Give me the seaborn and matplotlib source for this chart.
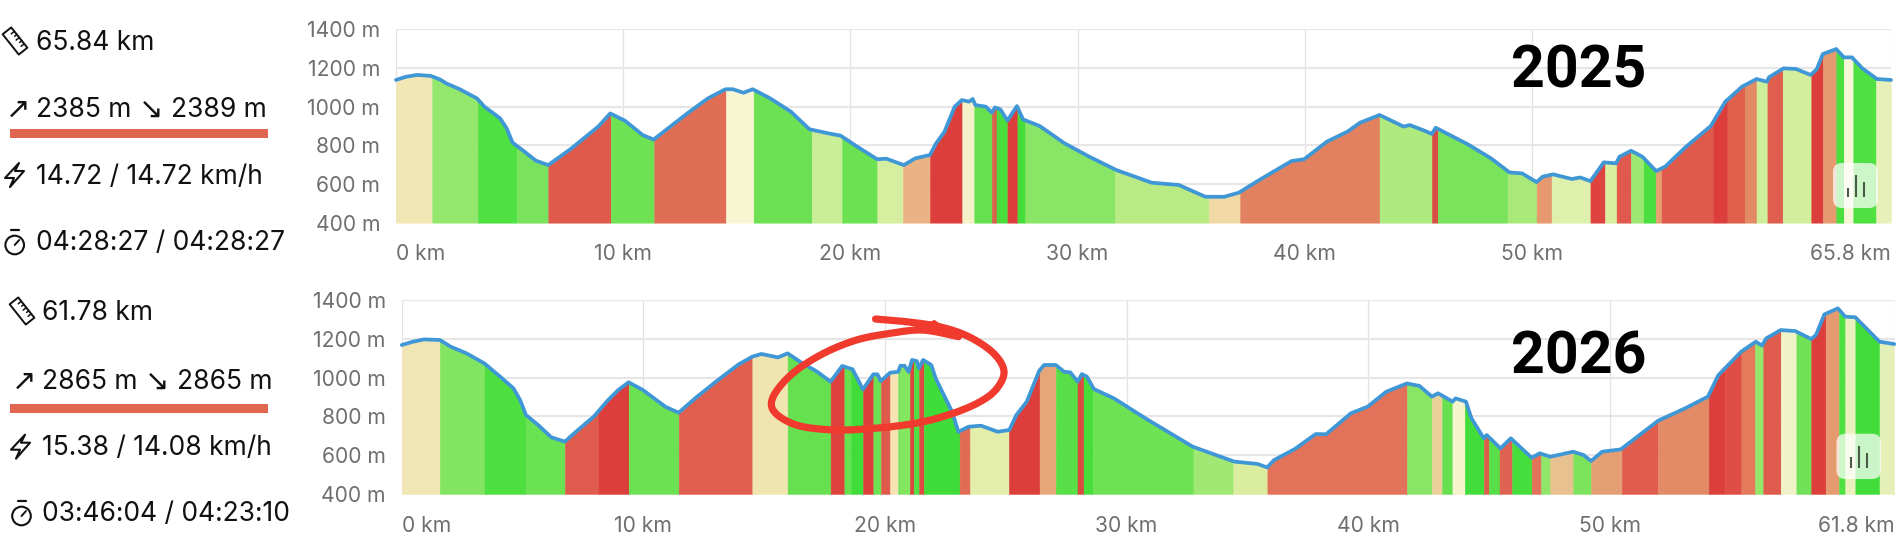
import numpy as np
import pandas as pd
import matplotlib
matplotlib.use("Agg")
import matplotlib.pyplot as plt
from matplotlib.patches import Polygon, Circle, FancyBboxPatch
import seaborn as sns

# ---------- data ----------
km_2025 = [0,0.45,0.94,1.53,1.93,2.22,2.81,3.56,3.89,4.58,4.87,5.13,5.66,6.15,6.70,7.72,8.9,9.43,10.08,10.86,11.34,
           12.82,13.73,14.5,14.83,15.29,15.7,16.47,17.38,18.2,19.03,19.57,20.3,21.18,21.58,22.35,22.86,23.5,23.77,24.14,24.59,24.9,25.23,25.38,25.5,25.96,26.23,26.36,26.6,26.91,27.33,27.6,28.33,29.43,30.52,31.71,33.26,34.45,35.63,36.45,37.09,38.0,
           39.42,39.97,40.97,41.88,42.43,43.29,44.35,44.62,45.26,45.59,45.76,47.18,48.19,49.01,49.56,50.2,50.47,50.93,51.75,52.12,52.57,53.16,53.7,53.85,54.36,54.86,55.46,55.86,56.78,57.87,58.51,59.24,59.88,60.34,60.43,61.07,61.62,62.26,62.53,62.8,63.39,63.72,64.08,64.54,65.18,65.8]
ele_2025 = [1138,1155,1164,1159,1141,1120,1090,1043,1000,940,888,814,767,721,698,784,897,965,927,853,830,
            965,1043,1090,1090,1072,1090,1043,974,883,862,850,793,728,731,698,733,750,810,870,1000,1034,1026,1040,1008,1000,969,996,986,928,1003,934,900,810,741,672,607,595,534,534,555,621,
            719,728,819,871,917,957,897,905,876,859,891,805,733,660,655,610,638,650,626,634,615,712,707,741,772,741,667,690,793,900,1026,1103,1143,1129,1152,1198,1195,1164,1193,1272,1298,1255,1255,1198,1143,1138]
seg_end_2025 = [1.59,3.6,5.32,6.7,9.45,11.36,14.52,15.74,18.3,19.63,21.18,22.31,23.5,24.92,25.45,26.22,26.43,26.91,27.35,27.69,31.65,35.78,37.15,
                43.29,45.59,45.85,48.92,50.2,50.86,52.57,53.21,53.72,54.35,54.91,55.44,55.7,57.96,58.6,59.37,59.88,60.36,61.03,62.29,62.8,63.39,63.72,64.14,65.14,65.8]
seg_col_2025 = ["#f1e6b4","#93e76d","#4fe041","#7ae35d","#e05a4c","#6fe254","#e06e55","#f6f6d3","#6de153","#c9ee97","#6ce152","#d5eea0","#e9b385","#dc3f3b","#f5f2c9","#66e04e","#d6634c","#4ade3d","#dc3f3b","#44dd3a","#88e565","#b9ea83","#f0d9a5",
                "#e2815f","#aeea7d","#d64f40","#79e35c","#a8e97a","#e6986f","#dff0ac","#de433f","#d9ee9f","#e0594c","#9de872","#4ade3e","#e6a070","#e05a4c","#dc3f3b","#e0604e","#e28a63","#cdef99","#e05e4e","#d3ee9c","#dc3f3b","#e69a70","#4ade3f","#f7f7d8","#4fe041","#e6f0b8"]

km_2026 = [0,.46,.92,1.57,2.03,2.68,3.42,4.07,4.62,4.9,5.14,5.64,6.19,6.75,7.21,7.95,8.5,8.96,9.39,9.98,10.91,11.46,
           12.14,13.0,13.94,14.51,14.89,15.57,15.97,16.52,17.2,17.75,18.23,18.66,19.09,19.52,19.69,19.83,20.21,20.55,20.64,20.81,20.98,21.12,21.32,21.41,21.58,21.92,22.1,22.78,23.04,23.47,23.98,24.67,25.15,25.44,25.87,26.39,26.59,27.07,27.42,27.67,27.98,28.15,28.36,28.65,29.48,30.85,32.74,34.46,35.42,35.82,
           36.11,36.97,37.83,38.26,39.29,39.98,40.75,41.61,42.13,42.64,42.9,43.5,43.62,44.05,44.28,44.79,44.91,45.48,45.91,46.77,47.11,47.54,48.49,48.92,49.23,49.69,50.46,52.01,53.13,54.07,54.5,55.45,56.05,56.31,56.48,57.08,57.68,58.34,58.54,58.89,59.45,59.75,60.17,61.17,61.78]
ele_2026 = [1168,1185,1197,1194,1159,1125,1073,1005,945,884,807,756,692,670,721,799,879,936,976,936,850,819,
            893,979,1068,1108,1122,1104,1125,1079,1030,979,1060,1043,939,1017,1017,982,1025,1030,1061,1061,1030,1091,1085,1048,1091,1065,996,824,721,747,752,721,730,807,876,1036,1065,1065,1030,1027,979,1018,1005,941,893,785,644,567,555,537,
            575,632,709,708,816,850,927,970,957,902,919,876,893,876,790,687,704,635,687,587,610,592,618,601,570,618,630,778,842,902,1013,1134,1185,1165,1202,1245,1240,1199,1219,1326,1357,1314,1311,1185,1173]
seg_end_2026 = [1.57,3.42,5.14,6.75,8.13,9.39,11.46,14.51,15.97,17.75,18.32,18.59,19.09,19.52,19.83,20.21,20.55,20.62,21.03,21.19,21.41,21.61,23.09,23.52,25.13,26.4,27.07,27.97,28.22,28.62,32.77,34.42,35.83,
                41.61,42.64,43.06,43.49,44.0,44.79,45.0,45.44,45.96,46.77,47.16,47.54,48.49,49.23,50.5,52.0,54.1,54.76,55.45,56.02,56.36,57.08,57.73,58.34,58.94,59.49,59.75,60.17,61.17,61.78]
seg_col_2026 = ["#f0e5b4","#81e561","#4ee041","#6ae251","#df5b4d","#dc3f3b","#6ce152","#e05e4e","#f0e5b0","#66e04e","#de423d","#66e04e","#3fdc3a","#dc3f3b","#6ce152","#e05a4c","#f7e4b4","#6de153","#84e55f","#d9473e","#4fe041","#de4a40","#3fdc3a","#e06c54","#e2eeaa","#dc3f3b","#e6a677","#58df47","#d94b3f","#47de3c","#6fe254","#a0e873","#dbee9f",
                "#e2725a","#88e565","#ebd09a","#66e04e","#f5f4cd","#43dd3b","#da5e49","#58df47","#df6352","#46de3c","#e2725a","#8fe668","#e9c191","#7ce45c","#e59f75","#e05c4d","#e38a66","#dc3f3b","#df4d44","#e4795c","#93e76a","#df5b4d","#eff3c7","#71e257","#dc3f3b","#e69a70","#4fe041","#eaf1bd","#43dd3b","#e5f0b8"]

# hand-drawn red loop on the 2026 profile (km, m)
loop_km = [19.61,20.89,22.27,23.47,24.5,24.93,24.58,23.81,22.61,21.24,19.52,17.98,16.6,15.74,15.31,15.49,16.26,17.46,18.83,20.21,21.58,23.04]
loop_m  = [1302,1288,1262,1211,1125,1030,936,867,807,764,738,730,747,790,850,927,1030,1125,1194,1228,1245,1211]

y_ticks = [400,600,800,1000,1200,1400]
x_ticks_2025 = [0,10,20,30,40,50,65.8]
x_ticks_2026 = [0,10,20,30,40,50,61.8]
stats_2025 = ["65.84 km","2385 m","2389 m","14.72 / 14.72 km/h","04:28:27 / 04:28:27"]
stats_2026 = ["61.78 km","2865 m","2865 m","15.38 / 14.08 km/h","03:46:04 / 04:23:10"]

# ---------- style ----------
sns.set_theme(style="white")
FONT = ["Inter", "DejaVu Sans"]
plt.rcParams["font.family"] = FONT
W, H = 1901, 550
GRID = "#e6e6e6"
LINE = "#3f97d6"
TICK = "#6f6f6f"
INK = "#111111"
fig = plt.figure(figsize=(W/100, H/100), dpi=100, facecolor="white")

def make_ax(x0, x1, ytop, ybot):
    return fig.add_axes([x0/W, 1-ybot/H, (x1-x0)/W, (ybot-ytop)/H])

def profile(ax, km, ele, ends, cols, xt, xmax):
    km = np.array(km, float); ele = np.array(ele, float)
    ax.set_xlim(0, xmax); ax.set_ylim(400, 1400)
    ax.set_axisbelow(True)
    ax.set_yticks(y_ticks); ax.set_yticklabels([f"{v} m" for v in y_ticks])
    ax.set_xticks(xt)
    labs = [f"{v:g} km" for v in xt]
    ax.set_xticklabels(labs)
    ax.grid(True, axis="y", color=GRID, lw=1.5)
    ax.grid(True, axis="x", color="#e2e2e2", lw=0.9)
    for s in ax.spines.values():
        s.set_visible(False)
    ax.tick_params(axis="y", length=8.5, width=1.1, color=GRID, labelsize=15.2, labelcolor=TICK, pad=3)
    ax.tick_params(axis="x", length=8.5, width=0.9, color="#e2e2e2", labelsize=15.2, labelcolor=TICK, pad=7)
    tl = ax.get_xticklabels()
    tl[0].set_ha("left"); tl[-1].set_ha("right")
    lo = 0.0
    for hi, c in zip(ends, cols):
        inner = km[(km > lo) & (km < hi)]
        xs = np.concatenate([[lo], inner, [hi]])
        ax.fill_between(xs, 400, np.interp(xs, km, ele), color=c, lw=0.3, zorder=2)
        lo = hi
    sns.lineplot(x=km, y=ele, ax=ax, color=LINE, lw=2.7, estimator=None, errorbar=None, zorder=3, clip_on=False)
    ax.set_xlabel(""); ax.set_ylabel("")

ax1 = make_ax(396, 1891, 29.3, 222.7)
ax2 = make_ax(401.8, 1894.7, 300, 494)
profile(ax1, km_2025, ele_2025, seg_end_2025, seg_col_2025, x_ticks_2025, 65.8)
profile(ax2, km_2026, ele_2026, seg_end_2026, seg_col_2026, x_ticks_2026, 61.8)

# overlay in pixel space for the side panel and badges
ov = fig.add_axes([0, 0, 1, 1], facecolor="none")
ov.set_xlim(0, W); ov.set_ylim(H, 0); ov.axis("off"); ov.set_zorder(5)

def catmull(x, y, n=14):
    p = np.column_stack([x, y]).astype(float)
    p = np.vstack([p[0], p, p[-1]])
    out = []
    for i in range(1, len(p)-2):
        t = np.linspace(0, 1, n, endpoint=False)[:, None]
        a, b, c, d = p[i-1], p[i], p[i+1], p[i+2]
        out.append(0.5*((2*b)+(-a+c)*t+(2*a-5*b+4*c-d)*t**2+(-a+3*b-3*c+d)*t**3))
    out.append(p[-2][None, :])
    return np.vstack(out)

# red loop, drawn through the axes scale of the 2026 chart
sm = catmull(loop_km, loop_m)
pix = ov.transData.inverted().transform(ax2.transData.transform(sm))
ov.plot(pix[:, 0], pix[:, 1], color="#f03a2e", lw=5.2, solid_capstyle="round", solid_joinstyle="round")
tip = ov.transData.inverted().transform(ax2.transData.transform((loop_km[-1], loop_m[-1])))
ov.add_patch(Polygon([tip+(2, 2), tip+(-24, -16), tip+(-42, -8)], closed=True, color="#f03a2e", lw=1))

def ruler(cx, cy):
    L, w = 13, 5.5
    d = np.array([0.62, 0.78]); n = np.array([0.78, -0.62])
    c = np.array([cx, cy])
    ov.add_patch(Polygon([c-d*L-n*w, c-d*L+n*w, c+d*L+n*w, c+d*L-n*w], closed=True, fc="none", ec=INK, lw=1.4, joinstyle="round"))
    for k in np.linspace(-8, 8, 5):
        a = c+d*k+n*w
        b = a-n*(4 if int(k) % 8 == 0 else 2.8)
        ov.plot([a[0], b[0]], [a[1], b[1]], color=INK, lw=1.1)

def bolt(dx, cy):
    pts = np.array([[20,-12],[6,3],[15,3],[11,12],[25,-4],[16,-4]], float)
    ov.add_patch(Polygon(pts+[dx, cy], closed=True, fc="none", ec=INK, lw=1.5, joinstyle="round"))

def watch(cx, cy):
    ov.add_patch(Circle((cx, cy), 9.3, fc="none", ec=INK, lw=1.5))
    ov.plot([cx-4, cx+4], [cy-15, cy-15], color=INK, lw=1.6)
    ov.plot([cx, cx+4.5], [cy, cy-5], color=INK, lw=1.4)

def side(st, x, ys, bar_y, ic):
    fs = 19
    ov.text(x, ys[0], st[0], fontsize=fs, color=INK, va="center", ha="left")
    ov.text(x-30, ys[1], "↗", fontsize=fs+2, color=INK, va="center", ha="left", family=["DejaVu Sans"])
    ov.text(x, ys[1], st[1], fontsize=fs, color=INK, va="center", ha="left")
    ov.text(ic[0], ys[1], "↘", fontsize=fs+2, color=INK, va="center", ha="left", family=["DejaVu Sans"])
    ov.text(ic[1], ys[1], st[2], fontsize=fs, color=INK, va="center", ha="left")
    ov.text(x, ys[2], st[3], fontsize=fs, color=INK, va="center", ha="left")
    ov.text(x, ys[3], st[4], fontsize=fs, color=INK, va="center", ha="left")
    ov.fill_between([10, 268], bar_y, bar_y+9, color="#e0664f", lw=0)

side(stats_2025, 35.5, [43.5, 110, 177, 243], 129, (139, 171))
side(stats_2026, 42, [313.5, 382, 448, 514], 404, (145, 177))
ruler(15, 41); ruler(22, 311)
bolt(-1, 175); bolt(5, 446.7)
watch(14.7, 245); watch(21.5, 516)

ov.text(1579, 71, "2025", fontsize=42.5, fontweight="bold", family=["Roboto"], color="black", ha="center", va="center")
ov.text(1579, 358, "2026", fontsize=42.5, fontweight="bold", family=["Roboto"], color="black", ha="center", va="center")

def badge(x0, x1, y0, y1, bx, by, tops):
    ov.add_patch(FancyBboxPatch((x0+8, y0+8), x1-x0-16, y1-y0-16, boxstyle="round,pad=8,rounding_size=9",
                                fc=(1, 1, 1, 0.72), ec="none"))
    for xx, tt in zip(bx, tops):
        ov.plot([xx, xx], [tt, by], color="#3a4a3a", lw=1.5, solid_capstyle="butt", alpha=0.9)

badge(1833, 1878, 163, 208, [1848, 1856, 1863.5], 197, [188, 175, 182])
badge(1836.5, 1881, 433.7, 479, [1851, 1859.4, 1867.3], 467.7, [456.7, 445.7, 452.7])

fig.savefig("out.png", dpi=100, facecolor="white")
